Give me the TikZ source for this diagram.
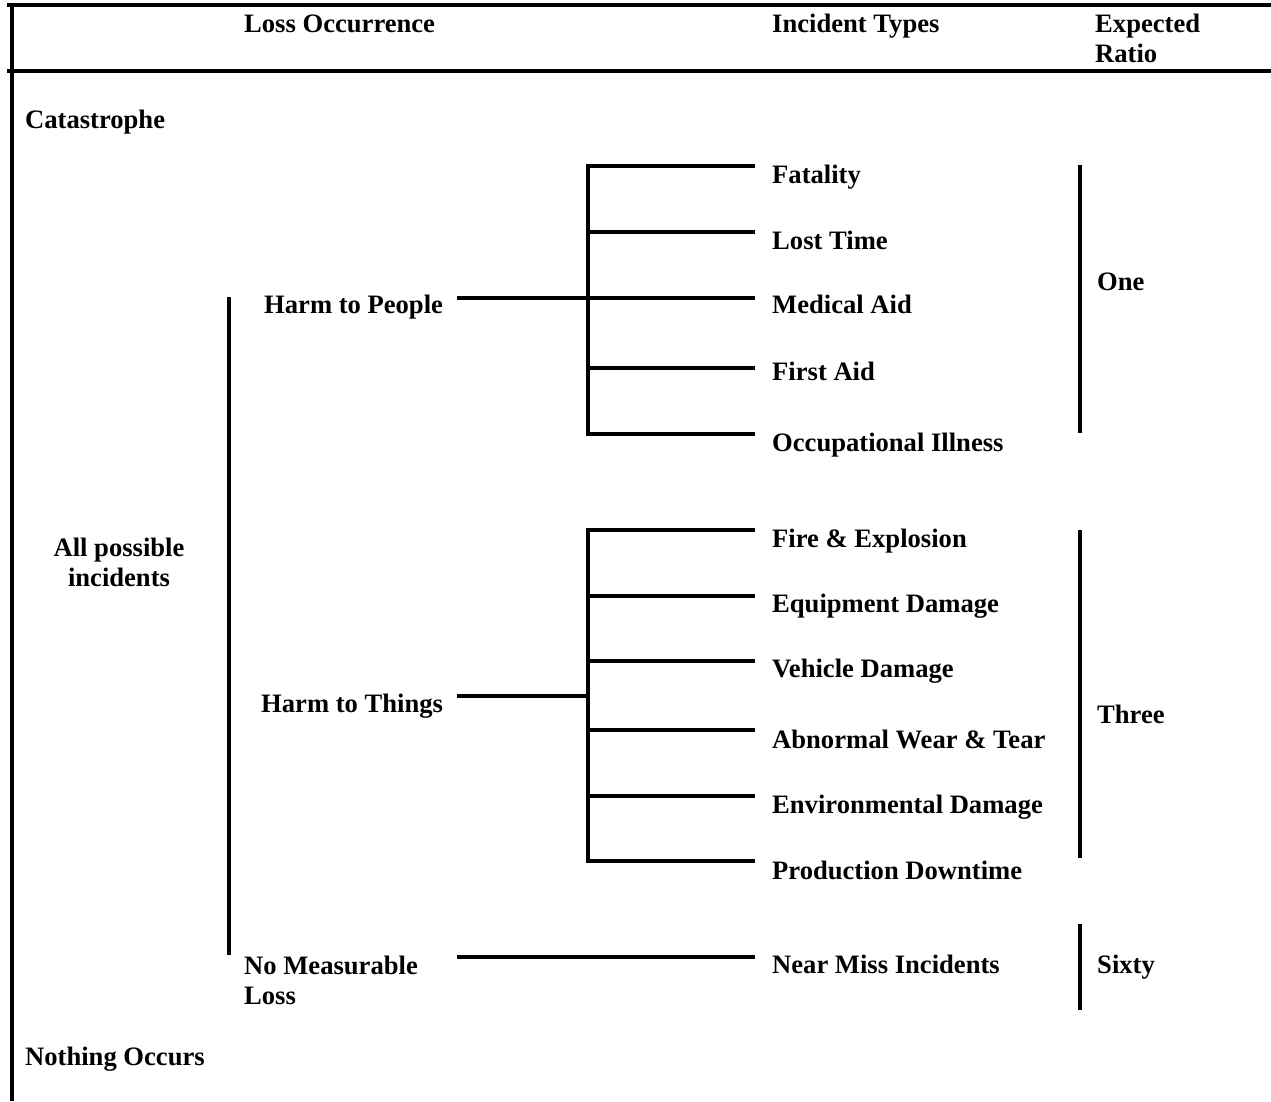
\documentclass[tikz,border=0pt]{standalone}
\usepackage{fontspec}
\setmainfont{Liberation Serif}
\begin{document}
\begin{tikzpicture}[x=1pt,y=-1pt,
  ln/.style={line width=4pt,black},
  spine/.style={line width=4pt,black,line cap=rect},
  lbl/.style={font=\bfseries\fontsize{26.6}{30}\selectfont,anchor=base west,inner sep=0pt,align=left},
  clbl/.style={font=\bfseries\fontsize{26.6}{30}\selectfont,anchor=base,inner sep=0pt,align=center}]
\useasboundingbox (0,0) rectangle (1271,1101);
% frame
\coordinate (topL) at (7,5);
\coordinate (topR) at (1271,5);
\coordinate (midL) at (7,70.5);
\coordinate (midR) at (1271,70.5);
\coordinate (frT) at (12,5);
\coordinate (frB) at (12,1101);
\draw[ln] (topL) -- (topR);
\draw[ln] (midL) -- (midR);
\draw[ln] (frT) -- (frB);
% headers
\node[lbl] (hLoss) at (244,32) {Loss Occurrence};
\node[lbl] (hInc) at (772,32) {Incident Types};
\node[lbl] (hExp) at (1095,62) {Expected\\Ratio};
% left column
\node[lbl] (cat) at (25,128) {Catastrophe};
\node[clbl] (all) at (119,586) {All possible\\incidents};
\node[lbl] (noth) at (25,1065) {Nothing Occurs};
% loss occurrence
\node[lbl] (people) at (264,313) {Harm to People};
\node[lbl] (things) at (261,712) {Harm to Things};
\node[lbl] (nml) at (244,1004) {No Measurable\\Loss};
\coordinate (lossT) at (229,297);
\coordinate (lossB) at (229,955);
\draw[ln] (lossT) -- (lossB);
% incident types
\node[lbl] (fat) at (772,183) {Fatality};
\node[lbl] (lost) at (772,249) {Lost Time};
\node[lbl] (med) at (772,313) {Medical Aid};
\node[lbl] (first) at (772,380) {First Aid};
\node[lbl] (occ) at (772,451) {Occupational Illness};
\node[lbl] (fire) at (772,547) {Fire \& Explosion};
\node[lbl] (equip) at (772,612) {Equipment Damage};
\node[lbl] (veh) at (772,677) {Vehicle Damage};
\node[lbl] (abn) at (772,748) {Abnormal Wear \& Tear};
\node[lbl] (env) at (772,813) {Environmental Damage};
\node[lbl] (prod) at (772,879) {Production Downtime};
\node[lbl] (near) at (772,973) {Near Miss Incidents};
% ratios
\node[lbl] (one) at (1097,290) {One};
\node[lbl] (three) at (1097,723) {Three};
\node[lbl] (sixty) at (1097,973) {Sixty};
% people tree
\coordinate (pS) at (457,298);
\coordinate (pJ) at (588,298);
\draw[ln] (pS) -- (pJ);
\coordinate (pTop) at (588,166);
\coordinate (pBot) at (588,434);
\draw[spine] (pTop) -- (pBot);
\foreach \n/\y in {fat/166,lost/232,med/298,first/368,occ/434}{
  \coordinate (\n-j) at (588,\y);
  \coordinate (\n-e) at (755,\y);
  \draw[ln] (\n-j) -- (\n-e);
}
% things tree
\coordinate (tS) at (457,696);
\coordinate (tJ) at (588,696);
\draw[ln] (tS) -- (tJ);
\coordinate (tTop) at (588,530);
\coordinate (tBot) at (588,861);
\draw[spine] (tTop) -- (tBot);
\foreach \n/\y in {fire/530,equip/596,veh/661,abn/730,env/796,prod/861}{
  \coordinate (\n-j) at (588,\y);
  \coordinate (\n-e) at (755,\y);
  \draw[ln] (\n-j) -- (\n-e);
}
% near miss
\coordinate (nS) at (457,957);
\coordinate (nE) at (755,957);
\draw[ln] (nS) -- (nE);
% ratio bars
\coordinate (oT) at (1080,165);
\coordinate (oB) at (1080,433);
\draw[ln] (oT) -- (oB);
\coordinate (thT) at (1080,530);
\coordinate (thB) at (1080,858);
\draw[ln] (thT) -- (thB);
\coordinate (sT) at (1080,924);
\coordinate (sB) at (1080,1010);
\draw[ln] (sT) -- (sB);
\end{tikzpicture}
\end{document}
